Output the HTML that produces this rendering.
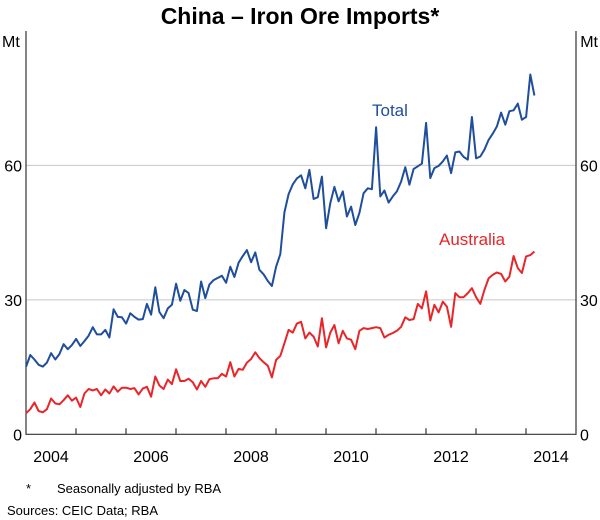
<!DOCTYPE html>
<html><head><meta charset="utf-8"><style>
body{margin:0;background:#fff;}
svg{display:block;font-family:"Liberation Sans",Arial,sans-serif;}
</style></head><body>
<svg id="chart" width="600" height="520" viewBox="0 0 600 520">
<text x="300" y="24" text-anchor="middle" font-size="23" font-weight="bold">China – Iron Ore Imports*</text>
<text x="2" y="47" font-size="16">Mt</text>
<text x="598" y="47" font-size="16" text-anchor="end">Mt</text>
<g id="grid"></g><g id="axes"></g><g id="series"></g>
<text x="372" y="116" font-size="17" fill="#1f4e9c">Total</text>
<text x="439" y="245" font-size="17" fill="#e8262a">Australia</text>
<text x="26" y="493" font-size="13">*</text>
<text x="57" y="493" font-size="13">Seasonally adjusted by RBA</text>
<text x="7" y="515" font-size="13">Sources:   CEIC Data; RBA</text>
</svg>
<script>
const yTicks=[0,30,60];
const xYears=[2004,2005,2006,2007,2008,2009,2010,2011,2012,2013,2014];
const xLabels=[2004,2006,2008,2010,2012,2014];
const startYear=2004;
const total=[15.1,17.7,16.7,15.5,15.1,16.0,18.1,16.7,17.9,20.1,19.0,19.9,21.3,19.7,20.8,22.0,23.9,22.3,22.3,23.3,21.6,27.9,26.2,26.1,24.7,27.0,26.2,25.6,25.7,29.1,26.7,32.8,27.3,25.9,28.1,28.9,33.6,29.8,32.2,31.5,27.8,27.5,34.1,30.4,33.4,34.4,34.9,35.4,33.8,37.4,35.1,38.3,39.8,41.1,38.4,40.6,36.7,35.7,34.2,33.1,37.4,40.2,49.5,53.6,55.8,57.1,57.8,
54.9,59.0,52.5,52.9,57.5,46.0,51.6,55.2,52.0,54.2,48.6,50.8,46.7,49.4,53.8,54.9,54.7,68.5,53.1,54.4,51.7,53.1,54.2,56.4,59.6,55.7,59.2,59.8,60.4,69.5,57.2,59.4,59.9,60.9,62.2,58.3,62.9,63.1,61.9,61.3,70.8,61.6,62.0,63.5,65.7,67.1,68.7,71.8,69.1,72.1,72.3,73.8,70.2,70.8,80.3,75.6];
const australia=[4.7,5.6,7.1,5.2,4.9,5.6,8.0,6.9,6.7,7.6,8.7,7.5,8.2,6.1,9.1,10.1,9.8,10.1,8.7,10.0,9.1,10.7,9.5,10.4,10.4,10.1,10.3,8.9,10.2,10.6,8.4,12.9,10.9,10.1,12.2,11.2,14.5,11.9,11.9,12.4,11.6,10.0,11.9,10.6,12.3,12.5,12.5,13.5,12.9,16.1,12.9,14.6,14.4,16.0,16.8,18.3,17.0,16.1,15.3,12.7,16.6,17.5,20.3,23.3,22.7,24.7,25.1,
21.4,22.7,21.8,19.6,25.9,19.4,22.7,24.4,20.3,23.1,21.4,21.1,19.0,23.1,23.7,23.5,23.7,23.9,23.7,21.6,22.2,22.6,23.1,24.0,26.1,25.5,25.7,29.1,28.1,31.9,25.4,28.9,27.2,29.6,28.5,24.0,31.5,30.6,30.6,31.5,32.6,30.6,29.1,32.2,34.8,35.6,36.1,35.8,34.1,35.2,39.8,37.1,36.0,39.7,40.0,40.8];
const L=26,R=576,T=31,B=434.3,YMAX=90,YEARS=11;
const xm=i=>L+(i+0.5)*(R-L)/(YEARS*12)-2;
const xy=yr=>L+(yr-startYear)*(R-L)/YEARS;
const y=v=>B-v*(B-T)/YMAX;
const NS="http://www.w3.org/2000/svg";
function mk(tag,attrs,parent,txt){const e=document.createElementNS(NS,tag);for(const k in attrs)e.setAttribute(k,attrs[k]);if(txt!=null)e.textContent=txt;parent.appendChild(e);return e;}
const grid=document.getElementById('grid'),axes=document.getElementById('axes'),ser=document.getElementById('series');
yTicks.forEach(v=>{
 if(v>0){const g=mk('line',{x1:L,x2:R,y1:y(v),y2:y(v),stroke:'#c8c8c8','stroke-width':1},grid);
 
 }
 const t1=mk('text',{x:L-4,y:y(v)+6,'text-anchor':'end','font-size':16},axes,String(v));
 
 
 const t2=mk('text',{x:R+4,y:y(v)+6,'font-size':16},axes,String(v));
 
 
});
const ax=mk('path',{d:`M${L},${T}V${B}H${R}V${T}`,fill:'none',stroke:'#333','stroke-width':1.2},axes);


xYears.slice(1).forEach(yr=>{const t=mk('line',{x1:xy(yr),x2:xy(yr),y1:B,y2:B-6,stroke:'#333','stroke-width':1.2},axes);
 
 });
xLabels.forEach(yr=>{const t=mk('text',{x:xy(yr+0.5),y:462,'text-anchor':'middle','font-size':16},axes,String(yr));
 
 });
function line(arr,color,name){const d=arr.map((v,i)=>(i?'L':'M')+xm(i).toFixed(1)+','+y(v).toFixed(1)).join('');
 const p=mk('path',{d:d,fill:'none',stroke:color,'stroke-width':2,'stroke-linejoin':'round'},ser);
 
 }
line(total,'#1f4e9c','total-line');
line(australia,'#e8262a','australia-line');
</script>
</body></html>
